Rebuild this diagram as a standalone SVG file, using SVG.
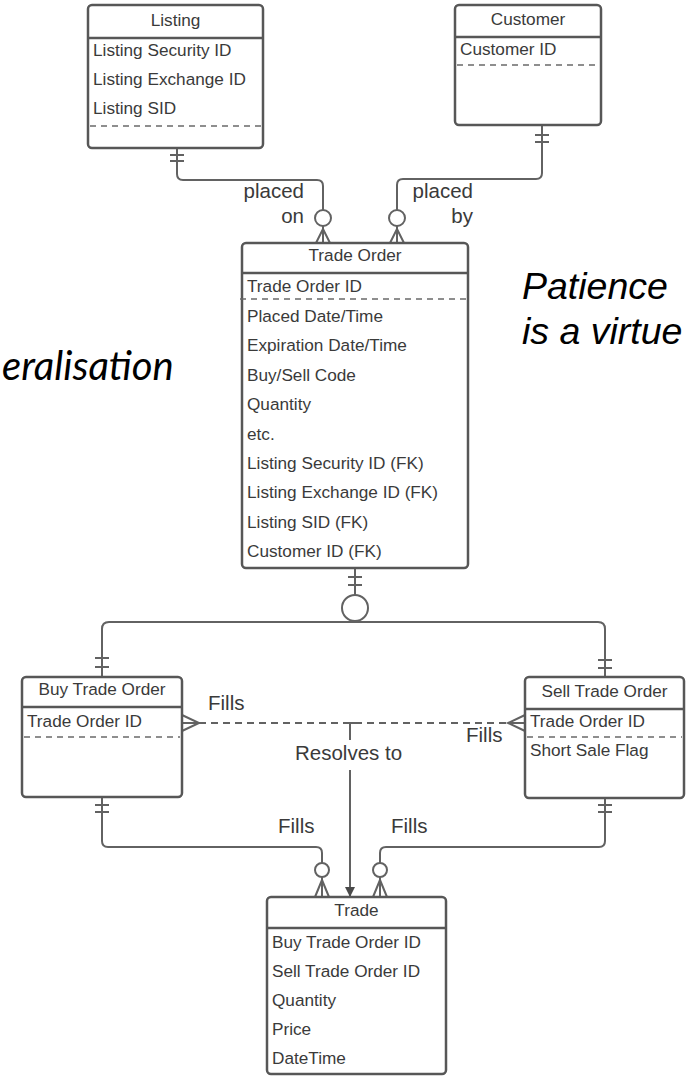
<svg xmlns="http://www.w3.org/2000/svg" width="687" height="1076" viewBox="0 0 687 1076">
<defs>
<style>
.box{fill:#fff;stroke:#575757;stroke-width:2.5}
.sep{stroke:#575757;stroke-width:2.5}
.dash{stroke:#6a6a6a;stroke-width:1.5;stroke-dasharray:6 5}
.t{font-family:"Liberation Sans",Arial,sans-serif;font-size:17.2px;fill:#3a3a3a}
.h{text-anchor:middle}
.lbl{font-family:"Liberation Sans",Arial,sans-serif;font-size:20.5px;fill:#3a3a3a}
.ln{fill:none;stroke:#626262;stroke-width:2}
.circ{fill:#fff;stroke:#626262;stroke-width:2}
.it{font-family:"Liberation Sans",Arial,sans-serif;font-style:italic;font-size:37.5px;fill:#000}
</style>
<marker id="arr" viewBox="0 0 10 10" refX="10" refY="5" markerWidth="10" markerHeight="10" markerUnits="userSpaceOnUse" orient="auto">
<path d="M0,0 L10,5 L0,10 z" fill="#4a4a4a"/>
</marker>
</defs>
<rect width="687" height="1076" fill="#fff"/>

<g id="free-text">
<text class="it" x="2" y="380" style="font-family:Lato,'Liberation Sans',sans-serif;font-size:40px">eralisation</text>
<text class="it" x="522" y="299">Patience</text>
<text class="it" x="522" y="344">is a virtue</text>
</g>

<g id="connectors">
<!-- Listing -> Trade Order -->
<path class="ln" d="M177,148 V174 Q177,180 183,180 H317 Q323,180 323,186 V210"/>
<path class="ln" d="M170,155 H184 M170,161 H184"/>
<circle class="circ" cx="323" cy="218" r="8"/>
<path class="ln" d="M323,226 V243 M316,243 L323,229 L330,243"/>
<!-- Customer -> Trade Order -->
<path class="ln" d="M542,125 V173 Q542,179 536,179 H403 Q397,179 397,185 V210"/>
<path class="ln" d="M535,135 H549 M535,142 H549"/>
<circle class="circ" cx="397" cy="218" r="8"/>
<path class="ln" d="M397,226 V243 M390,243 L397,229 L404,243"/>
<!-- Trade Order subtypes -->
<path class="ln" d="M355,568 V595"/>
<path class="ln" d="M348,577 H362 M348,585 H362"/>
<path class="ln" d="M102,677 V629 Q102,622 109,622 H598 Q605,622 605,629 V677"/>
<circle class="circ" cx="355" cy="608" r="13"/>
<path class="ln" d="M95,658 H109 M95,667 H109"/>
<path class="ln" d="M598,660 H612 M598,668 H612"/>
<!-- Buy - Sell dashed fills -->
<path class="ln" d="M182,715 L199,723 L182,731 M182,723 H199"/>
<path class="ln" d="M525,715 L508,723 L525,731 M525,723 H508"/>
<path class="ln" d="M199,723 H508" stroke-dasharray="7 5" stroke-width="1.6"/>
<!-- Resolves to -->
<path class="ln" d="M350,740 V723 H355" stroke-width="1.6"/>
<path class="ln" d="M350,770 V897" marker-end="url(#arr)" stroke-width="1.6"/>
<!-- Buy -> Trade -->
<path class="ln" d="M102,797 V841 Q102,847 108,847 H316 Q322,847 322,853 V863"/>
<path class="ln" d="M95,805 H109 M95,812 H109"/>
<circle class="circ" cx="322" cy="870" r="7"/>
<path class="ln" d="M322,877 V897 M315,897 L322,880 L329,897"/>
<!-- Sell -> Trade -->
<path class="ln" d="M605,798 V841 Q605,847 599,847 H386 Q380,847 380,853 V863"/>
<path class="ln" d="M598,805 H612 M598,812 H612"/>
<circle class="circ" cx="380" cy="870" r="7"/>
<path class="ln" d="M380,877 V897 M373,897 L380,880 L387,897"/>
<!-- labels -->
<text class="lbl" x="304" y="198" text-anchor="end">placed</text>
<text class="lbl" x="304" y="223" text-anchor="end">on</text>
<text class="lbl" x="473" y="198" text-anchor="end">placed</text>
<text class="lbl" x="473" y="223" text-anchor="end">by</text>
<text class="lbl" x="208" y="710">Fills</text>
<text class="lbl" x="466" y="742">Fills</text>
<text class="lbl" x="295" y="760">Resolves to</text>
<text class="lbl" x="278" y="833">Fills</text>
<text class="lbl" x="391" y="833">Fills</text>
</g>

<g id="listing">
<rect class="box" x="88" y="5" width="175" height="143" rx="4"/>
<line class="sep" x1="88" y1="38" x2="263" y2="38"/>
<text class="t h" x="175.5" y="26">Listing</text>
<text class="t" x="93" y="56">Listing Security ID</text>
<text class="t" x="93" y="85">Listing Exchange ID</text>
<text class="t" x="93" y="114">Listing SID</text>
<line class="dash" x1="90" y1="126" x2="261" y2="126"/>
</g>

<g id="customer">
<rect class="box" x="455" y="5" width="146" height="120" rx="4"/>
<line class="sep" x1="455" y1="37" x2="601" y2="37"/>
<text class="t h" x="528" y="25">Customer</text>
<text class="t" x="460" y="55">Customer ID</text>
<line class="dash" x1="457" y1="65" x2="599" y2="65"/>
</g>

<g id="trade-order">
<rect class="box" x="242" y="243" width="226" height="325" rx="4"/>
<line class="sep" x1="242" y1="273" x2="468" y2="273"/>
<text class="t h" x="355" y="261">Trade Order</text>
<text class="t" x="247" y="292">Trade Order ID</text>
<line class="dash" x1="240" y1="299" x2="466" y2="299"/>
<text class="t" x="247" y="322">Placed Date/Time</text>
<text class="t" x="247" y="351">Expiration Date/Time</text>
<text class="t" x="247" y="381">Buy/Sell Code</text>
<text class="t" x="247" y="410">Quantity</text>
<text class="t" x="247" y="440">etc.</text>
<text class="t" x="247" y="469">Listing Security ID (FK)</text>
<text class="t" x="247" y="498">Listing Exchange ID (FK)</text>
<text class="t" x="247" y="528">Listing SID (FK)</text>
<text class="t" x="247" y="557">Customer ID (FK)</text>
</g>

<g id="buy-trade-order">
<rect class="box" x="22" y="677" width="160" height="120" rx="4"/>
<line class="sep" x1="22" y1="707" x2="182" y2="707"/>
<text class="t h" x="102" y="695">Buy Trade Order</text>
<text class="t" x="27" y="727">Trade Order ID</text>
<line class="dash" x1="24" y1="737" x2="180" y2="737"/>
</g>

<g id="sell-trade-order">
<rect class="box" x="525" y="677" width="159" height="121" rx="4"/>
<line class="sep" x1="525" y1="709" x2="684" y2="709"/>
<text class="t h" x="604.5" y="697">Sell Trade Order</text>
<text class="t" x="530" y="727">Trade Order ID</text>
<line class="dash" x1="527" y1="737" x2="682" y2="737"/>
<text class="t" x="530" y="756">Short Sale Flag</text>
</g>

<g id="trade">
<rect class="box" x="267" y="897" width="179" height="177" rx="4"/>
<line class="sep" x1="267" y1="928" x2="446" y2="928"/>
<text class="t h" x="356.5" y="916">Trade</text>
<text class="t" x="272" y="948">Buy Trade Order ID</text>
<text class="t" x="272" y="977">Sell Trade Order ID</text>
<text class="t" x="272" y="1006">Quantity</text>
<text class="t" x="272" y="1035">Price</text>
<text class="t" x="272" y="1064">DateTime</text>
</g>
</svg>
